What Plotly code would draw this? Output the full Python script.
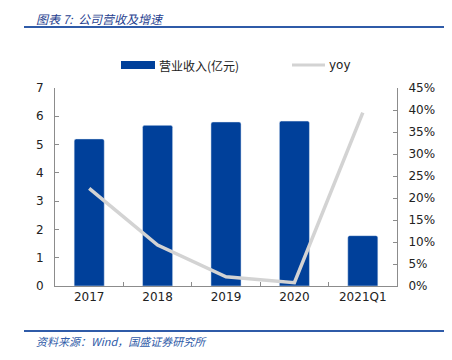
import plotly.graph_objects as go

categories = ["2017", "2018", "2019", "2020", "2021Q1"]
revenue = [5.20, 5.68, 5.80, 5.83, 1.78]
yoy = [0.222, 0.093, 0.021, 0.0075, 0.394]
left_ticks = [0, 1, 2, 3, 4, 5, 6, 7]
right_ticks = [0, 0.05, 0.10, 0.15, 0.20, 0.25, 0.30, 0.35, 0.40, 0.45]

BLUE = "#00409A"
GRAY_LINE = "#D3D3D3"
AXIS = "#8C8C8C"
FONT = "DejaVu Sans, Verdana, sans-serif"
CJK = "Noto Sans CJK SC"

OFF = 8  # page body margin
W, H = 452 - OFF, 360 - OFF
L, T = 55 - OFF, 88 - OFF
R = W - (397 - OFF)
B = H - (286 - OFF)
pw = W - L - R
ph = H - T - B

def px(x):
    return (x - OFF - L) / pw

def py(y):
    return (H - B - (y - OFF)) / ph

fig = go.Figure()
fig.add_trace(go.Bar(x=categories, y=revenue, marker=dict(color=BLUE, cornerradius=2),
                     width=0.44, name="营业收入(亿元)", showlegend=False))
fig.add_trace(go.Scatter(x=categories, y=yoy, yaxis="y2", mode="lines",
                         line=dict(color=GRAY_LINE, width=3.5), name="yoy", showlegend=False))

shapes = [
    dict(type="line", xref="paper", yref="paper", x0=px(24), x1=px(448), y0=py(27), y1=py(27),
         line=dict(color="#2F5BA8", width=2)),
    dict(type="line", xref="paper", yref="paper", x0=px(24), x1=px(448), y0=py(331), y1=py(331),
         line=dict(color="#2F5BA8", width=2)),
    dict(type="rect", xref="paper", yref="paper", x0=px(121), x1=px(155), y0=py(69), y1=py(61),
         fillcolor=BLUE, line=dict(width=0)),
    dict(type="line", xref="paper", yref="paper", x0=px(292), x1=px(325), y0=py(65), y1=py(65),
         line=dict(color=GRAY_LINE, width=3)),
]

annotations = [
    dict(text="<i>图表 7:  公司营收及增速</i>", xref="paper", yref="paper", x=px(34), y=py(8),
         xanchor="left", yanchor="top", showarrow=False,
         font=dict(family=CJK, size=12, color="#1F3F8F")),
    dict(text="<i>资料来源：Wind，国盛证券研究所</i>", xref="paper", yref="paper", x=px(34), y=py(341),
         xanchor="left", yanchor="middle", showarrow=False,
         font=dict(family=CJK, size=11, color="#2F5BA8")),
    dict(text="营业收入(亿元)", xref="paper", yref="paper", x=px(157), y=py(65),
         xanchor="left", yanchor="middle", showarrow=False,
         font=dict(family=CJK, size=12, color="#222222")),
    dict(text="yoy", xref="paper", yref="paper", x=px(327), y=py(65),
         xanchor="left", yanchor="middle", showarrow=False,
         font=dict(family=FONT, size=12, color="#222222")),
]

fig.update_layout(
    width=W, height=H,
    margin=dict(l=L, r=R, t=T, b=B),
    paper_bgcolor="white", plot_bgcolor="white",
    font=dict(family=FONT, size=12, color="#222222"),
    showlegend=False,
    shapes=shapes, annotations=annotations,
    xaxis=dict(type="category", showline=True, linecolor=AXIS, linewidth=1,
               ticks="inside", tickson="boundaries", ticklen=4, tickcolor=AXIS,
               showgrid=False, tickfont=dict(size=12), zeroline=False),
    yaxis=dict(range=[0, 7], tickvals=left_ticks, showline=True, linecolor=AXIS,
               ticks="inside", ticklen=4, tickcolor=AXIS, showgrid=False, zeroline=False,
               tickfont=dict(size=12), ticklabelstandoff=8),
    yaxis2=dict(range=[0, 0.45], tickvals=right_ticks, tickformat=".0%", overlaying="y",
                side="right", showline=True, linecolor=AXIS, ticks="inside", ticklen=4,
                tickcolor=AXIS, showgrid=False, zeroline=False, tickfont=dict(size=12),
                ticklabelstandoff=8),
)

fig.write_html("out.html")
